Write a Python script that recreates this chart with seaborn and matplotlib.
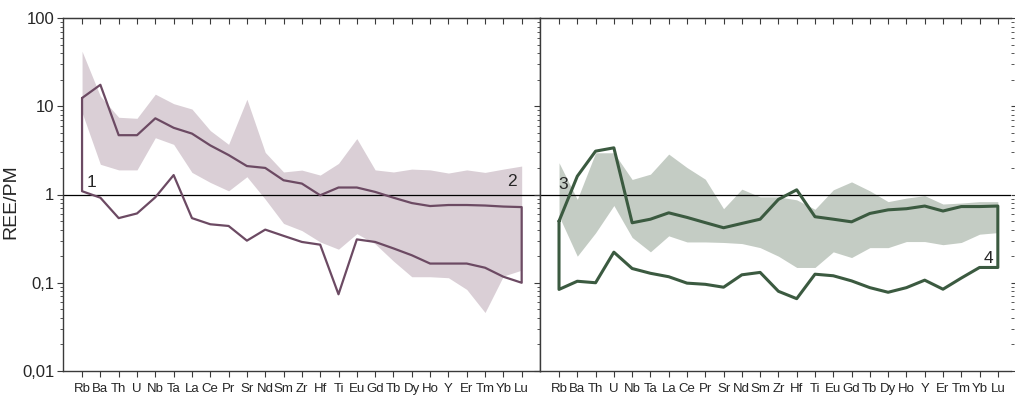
import numpy as np
import matplotlib
matplotlib.use("Agg")
import matplotlib.pyplot as plt
from matplotlib.ticker import LogLocator, FuncFormatter, NullFormatter
import seaborn as sns

# ---------------- data ----------------
elements = ["Rb", "Ba", "Th", "U", "Nb", "Ta", "La", "Ce", "Pr", "Sr", "Nd", "Sm", "Zr",
            "Hf", "Ti", "Eu", "Gd", "Tb", "Dy", "Ho", "Y", "Er", "Tm", "Yb", "Lu"]

# left panel: outline (fields 1-2) and shaded band
left_outline_upper = [12.4, 17.5, 4.7, 4.7, 7.3, 5.7, 4.9, 3.6, 2.8, 2.1, 2.0, 1.45, 1.33,
                      0.98, 1.2, 1.2, 1.07, 0.92, 0.80, 0.74, 0.76, 0.76, 0.75, 0.73, 0.72]
left_outline_lower = [1.09, 0.92, 0.54, 0.61, 0.93, 1.66, 0.54, 0.46, 0.44, 0.30, 0.40, 0.34, 0.29,
                      0.27, 0.074, 0.31, 0.29, 0.245, 0.205, 0.165, 0.165, 0.165, 0.148, 0.117, 0.10]
left_band_upper = [42.0, 13.0, 7.5, 7.3, 13.7, 10.7, 9.3, 5.3, 3.7, 12.0, 3.0, 1.8, 1.89,
                   1.66, 2.25, 4.3, 1.9, 1.8, 1.94, 1.9, 1.75, 1.9, 1.78, 1.94, 2.1]
left_band_lower = [8.5, 2.2, 1.9, 1.9, 4.4, 3.7, 1.78, 1.37, 1.10, 1.59, 0.885, 0.47, 0.39,
                   0.29, 0.24, 0.36, 0.276, 0.176, 0.117, 0.117, 0.114, 0.084, 0.046, 0.119, 0.139]

# right panel: outline (fields 3-4) and shaded band
right_outline_upper = [0.50, 1.61, 3.1, 3.38, 0.478, 0.525, 0.62, 0.55, 0.48, 0.42, 0.47, 0.525, 0.88,
                       1.13, 0.56, 0.525, 0.49, 0.61, 0.67, 0.69, 0.74, 0.65, 0.73, 0.73, 0.74]
right_outline_lower = [0.084, 0.104, 0.10, 0.222, 0.145, 0.128, 0.117, 0.099, 0.096, 0.089, 0.123, 0.131, 0.080,
                       0.066, 0.125, 0.12, 0.105, 0.088, 0.078, 0.088, 0.107, 0.0845, 0.113, 0.149, 0.149]
right_band_upper = [2.29, 0.88, 2.97, 2.97, 1.48, 1.70, 2.87, 2.02, 1.49, 0.69, 1.15, 0.94, 0.94,
                    0.87, 0.68, 1.13, 1.39, 1.1, 0.83, 0.91, 0.97, 0.78, 0.80, 0.83, 0.83]
right_band_lower = [0.57, 0.20, 0.368, 0.75, 0.326, 0.224, 0.34, 0.29, 0.29, 0.286, 0.278, 0.25, 0.20,
                    0.149, 0.149, 0.224, 0.193, 0.25, 0.25, 0.293, 0.293, 0.27, 0.286, 0.355, 0.37]

y_ticks = [0.01, 0.1, 1, 10, 100]
field_labels = ["1", "2", "3", "4"]

# ---------------- style ----------------
sns.set_style("ticks")
plt.rcParams["font.family"] = ["Liberation Sans", "DejaVu Sans"]

LEFT_LINE = "#6c4a63"
LEFT_FILL = "#dacfd6"
RIGHT_LINE = "#3b5a40"
RIGHT_FILL = "#c4ccc4"
SPINE = "#3a3a3a"

fig = plt.figure(figsize=(10.15, 3.96), dpi=100)
bottom = 1 - 371 / 396
height = (371 - 18) / 396
ax1 = fig.add_axes([63 / 1015, bottom, 477 / 1015, height])
ax2 = fig.add_axes([540 / 1015, bottom, 471 / 1015, height])

xs = np.arange(len(elements))


def draw_panel(ax, up, lo, bup, blo, lcolor, fcolor, lw):
    ax.fill_between(xs, blo, bup, color=fcolor, lw=0, zorder=1)
    px = list(xs) + list(xs[::-1]) + [xs[0]]
    py = list(up) + list(lo[::-1]) + [up[0]]
    sns.lineplot(x=px, y=py, sort=False, estimator=None, ax=ax, color=lcolor,
                 lw=lw, zorder=3)
    ax.axhline(1, color="black", lw=0.9, zorder=2)


draw_panel(ax1, left_outline_upper, left_outline_lower, left_band_upper, left_band_lower,
           LEFT_LINE, LEFT_FILL, 1.6)
draw_panel(ax2, right_outline_upper, right_outline_lower, right_band_upper, right_band_lower,
           RIGHT_LINE, RIGHT_FILL, 2.2)

ax1.set_xlim(-1.04, 25.0)
ax2.set_xlim(-1.04, 24.72)


def fmt(v, pos):
    return f"{v:g}".replace(".", ",")


for ax in (ax1, ax2):
    ax.set_yscale("log")
    ax.set_ylim(0.01, 100)
    ax.yaxis.set_major_locator(LogLocator(base=10, numticks=10))
    ax.yaxis.set_minor_locator(LogLocator(base=10, subs=np.arange(2, 10), numticks=10))
    ax.set_xticks(xs)
    ax.set_xticklabels(elements, fontsize=9.5)
    ax.tick_params(axis="x", which="major", direction="out", length=4.3, width=0.8,
                   color=SPINE, pad=4.5, top=False, bottom=True)
    ax.tick_params(axis="x", which="minor", bottom=False, top=False)
    for s in ax.spines.values():
        s.set_color(SPINE)
        s.set_linewidth(1.0)
    sec = ax.secondary_xaxis("top")
    sec.set_xticks(xs)
    sec.tick_params(direction="in", length=4.3, width=0.8, color=SPINE, labeltop=False)
    sec.spines["top"].set_color(SPINE)
    ax.set_xlabel("")

ax1.yaxis.set_major_formatter(FuncFormatter(fmt))
ax1.yaxis.set_minor_formatter(NullFormatter())
ax1.tick_params(axis="y", which="major", direction="out", length=4.3, width=0.8,
                color=SPINE, labelsize=12, left=True, right=False, pad=2)
ax1.tick_params(axis="y", which="minor", direction="out", length=2.2, width=0.6,
                color=SPINE, left=True, right=False)
ax1.set_ylabel("REE/PM", fontsize=14)
ax1.yaxis.set_label_coords(-0.092, 0.48)

ax2.yaxis.set_major_formatter(NullFormatter())
ax2.yaxis.set_minor_formatter(NullFormatter())
ax2.tick_params(axis="y", which="major", direction="out", length=4.3, width=0.8,
                color=SPINE, left=True, right=True, labelleft=False, labelright=False)
ax2.tick_params(axis="y", which="minor", direction="out", length=2.2, width=0.6,
                color=SPINE, left=True, right=True)
ax2.spines["right"].set_visible(False)
ax2.set_ylabel("")

# field numbers
ax1.text(0.5, 1.37, field_labels[0], fontsize=12.5, ha="center", va="center", zorder=5)
ax1.text(23.45, 1.40, field_labels[1], fontsize=12.5, ha="center", va="center", zorder=5)
ax2.text(0.22, 1.30, field_labels[2], fontsize=12.5, ha="center", va="center", zorder=5)
ax2.text(23.5, 0.188, field_labels[3], fontsize=12.5, ha="center", va="center", zorder=5)

fig.savefig("out.png", dpi=100)
